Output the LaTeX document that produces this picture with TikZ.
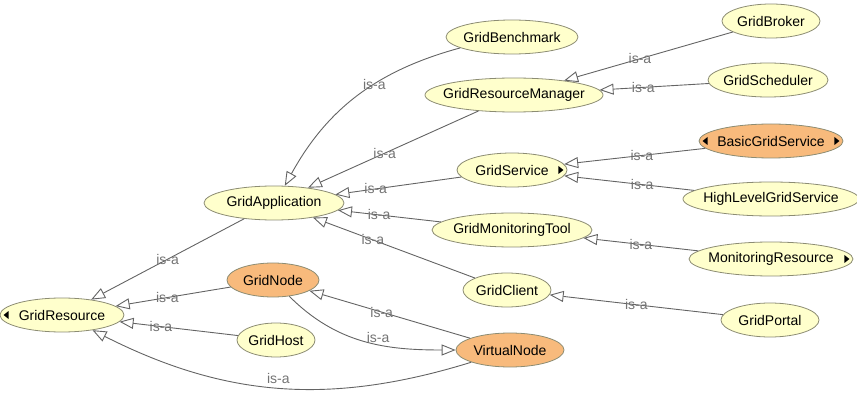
\documentclass[tikz,border=0pt]{standalone}
\usepackage{fontspec}
\setmainfont{Liberation Sans}
\usetikzlibrary{shapes.geometric,arrows.meta}

\definecolor{clsfill}{RGB}{255,255,204}
\definecolor{subfill}{RGB}{248,186,124}
\definecolor{clsline}{RGB}{140,140,115}
\definecolor{isaline}{RGB}{100,100,100}
\definecolor{isatext}{RGB}{115,115,115}
\newcommand{\cname}[1]{\makebox[0pt]{#1}}

\begin{document}
\begin{tikzpicture}[x=1pt,y=1pt,
    font=\fontsize{14}{16}\selectfont,
    cls/.style={ellipse,draw=clsline,fill=clsfill,line width=0.8pt,
      minimum height=34pt,inner sep=0pt,minimum width=#1},
    sub/.style={fill=subfill},
    isa/.style={draw=isaline,line width=0.9pt,
      -{Triangle[fill=white,length=14pt,width=11pt]}},
    lbl/.style={text=isatext,inner sep=1pt}]

  \useasboundingbox (0,0) rectangle (857,-398);

  % classes
  \node[cls=132] (bench)   at (512,-37)  {\cname{GridBenchmark}};
  \node[cls=98]  (broker)  at (771,-21)  {\cname{GridBroker}};
  \node[cls=178] (rm)      at (514,-95)  {\cname{GridResourceManager}};
  \node[cls=120] (sched)   at (768,-80)  {\cname{GridScheduler}};
  \node[cls=144,sub] (basic) at (771,-141) {\cname{BasicGridService}};
  \node[cls=110] (service) at (512,-170) {\cname{GridService}};
  \node[cls=176] (high)    at (771,-199) {\cname{HighLevelGridService}};
  \node[cls=140] (app)     at (274,-203) {\cname{GridApplication}};
  \node[cls=160] (mon)     at (512,-230) {\cname{GridMonitoringTool}};
  \node[cls=164] (monres)  at (771,-259) {\cname{MonitoringResource}};
  \node[cls=88]  (client)  at (507,-290) {\cname{GridClient}};
  \node[cls=92,sub] (gnode) at (273,-280) {\cname{GridNode}};
  \node[cls=124] (res)     at (62,-315)  {\cname{GridResource}};
  \node[cls=78]  (host)    at (276,-340) {\cname{GridHost}};
  \node[cls=98]  (portal)  at (770,-320) {\cname{GridPortal}};
  \node[cls=108,sub] (virt) at (510,-350) {\cname{VirtualNode}};

  % expand markers
  \fill ([xshift=4pt]res.west) -- ++(5pt,4pt) -- ++(0,-8pt) -- cycle;
  \fill ([xshift=-4pt]service.east) -- ++(-5pt,4pt) -- ++(0,-8pt) -- cycle;
  \fill ([xshift=4pt]basic.west) -- ++(5pt,4pt) -- ++(0,-8pt) -- cycle;
  \fill ([xshift=-4pt]basic.east) -- ++(-5pt,4pt) -- ++(0,-8pt) -- cycle;
  \fill ([xshift=-4pt]monres.east) -- ++(-5pt,4pt) -- ++(0,-8pt) -- cycle;

  % is-a links
  \path (bench)   edge[isa,bend right=23] node[lbl,pos=.4] {is-a} (app);
  \path (rm)      edge[isa] node[lbl,pos=.55] {is-a} (app);
  \path (broker)  edge[isa] node[lbl,pos=.55] {is-a} (rm);
  \path (sched)   edge[isa] node[lbl,pos=.6]  {is-a} (rm);
  \path (basic)   edge[isa] node[lbl,pos=.45] {is-a} (service);
  \path (high)    edge[isa] node[lbl,pos=.4]  {is-a} (service);
  \path (service) edge[isa] node[lbl,pos=.68] {is-a} (app);
  \path (mon)     edge[isa] node[lbl,pos=.6]  {is-a} (app);
  \path (client)  edge[isa] node[lbl,pos=.63] {is-a} (app);
  \path (monres)  edge[isa] node[lbl,pos=.5]  {is-a} (mon);
  \path (portal)  edge[isa] node[lbl,pos=.5]  {is-a} (client);
  \path (app)     edge[isa] node[lbl,pos=.5]  {is-a} (res);
  \path (gnode)   edge[isa] node[lbl,pos=.55] {is-a} (res);
  \path (host)    edge[isa] node[lbl,pos=.65] {is-a} (res);
  \path (virt)    edge[isa,bend left=22] node[lbl,pos=.5,above=3pt] {is-a} (res);
  \path (virt)    edge[isa] node[lbl,pos=.55] {is-a} (gnode);
  \path (gnode)   edge[isa,out=-45,in=180] node[lbl,pos=.58,above] {is-a} (virt);

\end{tikzpicture}
\end{document}
